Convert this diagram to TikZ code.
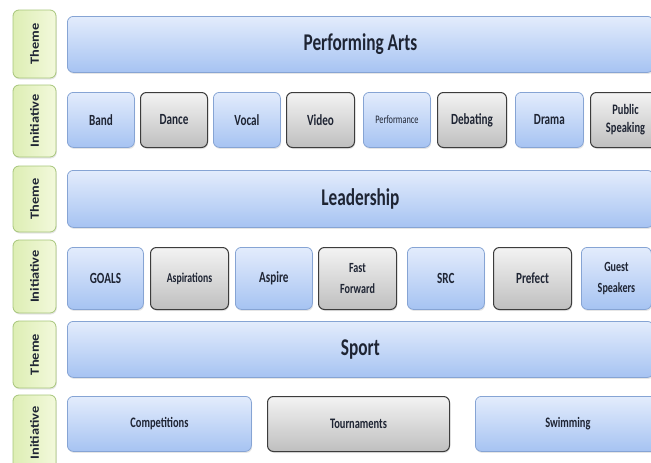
\documentclass[tikz,border=0pt]{standalone}
\usepackage{fontspec}
\setmainfont[FakeStretch=0.72]{Carlito}
\newfontfamily\sidefont[FakeStretch=1.15]{Carlito}
\usepackage{xcolor}
\usepackage{tikz}
\usetikzlibrary{positioning,shadows}

\definecolor{blueTop}{HTML}{E3ECFC}
\definecolor{blueBot}{HTML}{A6C3F2}
\definecolor{blueLine}{HTML}{86A4D4}
\definecolor{greyTop}{HTML}{F3F3F3}
\definecolor{greyBot}{HTML}{BFBFBF}
\definecolor{greyLine}{HTML}{3C3C3C}
\definecolor{greenTop}{HTML}{F3F9DC}
\definecolor{greenBot}{HTML}{DDEEB4}
\definecolor{greenLine}{HTML}{A6C57A}
\definecolor{txtcol}{HTML}{1E2433}

\begin{document}
\begin{tikzpicture}[x=1pt,y=-1pt,
    box/.style={rounded corners=6pt, inner sep=0pt, anchor=north west, align=center,
        text=txtcol, font=\bfseries\fontsize{15.5}{20}\selectfont,
        drop shadow={opacity=0.2, shadow xshift=0.8pt, shadow yshift=-1.5pt}},
    bluebox/.style={box, draw=blueLine, line width=0.8pt, top color=blueTop, bottom color=blueBot},
    greybox/.style={box, draw=greyLine, line width=1pt, top color=greyTop, bottom color=greyBot},
    themebar/.style={bluebox, font=\bfseries\fontsize{24}{26}\selectfont},
    sidelabel/.style={box, anchor=center, rotate=90, draw=greenLine, line width=0.8pt,
        left color=greenBot, right color=greenTop, minimum height=43pt,
        font=\sidefont\bfseries\fontsize{12.5}{14}\selectfont}]
    \clip (0,0) rectangle (651,463);

    % left column
    \node[sidelabel, minimum width=68pt] (th1) at (34.5,44) {Theme};
    \node[sidelabel, minimum width=72pt] (in1) at (34.5,121) {Initiative};
    \node[sidelabel, minimum width=66pt] (th2) at (34.5,199) {Theme};
    \node[sidelabel, minimum width=73pt] (in2) at (34.5,276.5) {Initiative};
    \node[sidelabel, minimum width=67pt] (th3) at (34.5,354.5) {Theme};
    \node[sidelabel, minimum width=76pt] (in3) at (34.5,433) {Initiative};

    % performing arts
    \node[themebar, minimum width=586pt, minimum height=56pt] (arts) at (67,16) {Performing Arts};
    \node[bluebox, minimum width=67pt, minimum height=55pt] (band) at (67,92) {Band};
    \node[greybox, minimum width=67pt, minimum height=55pt] (dance) at (140,92) {Dance};
    \node[bluebox, minimum width=67pt, minimum height=55pt] (vocal) at (213,92) {Vocal};
    \node[greybox, minimum width=68pt, minimum height=55pt] (video) at (286,92) {Video};
    \node[bluebox, minimum width=67pt, minimum height=55pt, font=\fontsize{11.5}{13}\selectfont] (perf) at (363,92) {Performance};
    \node[greybox, minimum width=69pt, minimum height=55pt] (debate) at (437,92) {Debating};
    \node[bluebox, minimum width=68pt, minimum height=55pt] (drama) at (515,92) {Drama};
    \node[greybox, minimum width=70pt, minimum height=55pt, font=\bfseries\fontsize{14.5}{18}\selectfont] (speak) at (590,92) {Public\\Speaking};

    % leadership
    \node[themebar, minimum width=586pt, minimum height=57pt] (lead) at (67,170) {Leadership};
    \node[bluebox, minimum width=76pt, minimum height=62pt] (goals) at (67,247) {GOALS};
    \node[greybox, minimum width=78pt, minimum height=62pt, font=\bfseries\fontsize{13.5}{15}\selectfont] (aspir) at (150,247) {Aspirations};
    \node[bluebox, minimum width=77pt, minimum height=62pt] (aspire) at (235,247) {Aspire};
    \node[greybox, minimum width=78pt, minimum height=62pt, font=\bfseries\fontsize{14}{21}\selectfont] (fast) at (318,247) {Fast\\Forward};
    \node[bluebox, minimum width=77pt, minimum height=62pt] (src) at (407,247) {SRC};
    \node[greybox, minimum width=78pt, minimum height=62pt] (prefect) at (493,247) {Prefect};
    \node[bluebox, minimum width=70pt, minimum height=62pt, font=\bfseries\fontsize{14}{21}\selectfont] (guest) at (581,247) {Guest\\Speakers};

    % sport
    \node[themebar, minimum width=586pt, minimum height=56pt] (sport) at (67,321) {Sport};
    \node[bluebox, minimum width=184pt, minimum height=55pt, font=\bfseries\fontsize{14.5}{16}\selectfont] (comp) at (67,396) {Competitions};
    \node[greybox, minimum width=182pt, minimum height=55pt, font=\bfseries\fontsize{14.5}{16}\selectfont] (tourn) at (267,396) {Tournaments};
    \node[bluebox, minimum width=185pt, minimum height=55pt, font=\bfseries\fontsize{14.5}{16}\selectfont] (swim) at (475,396) {Swimming};
\end{tikzpicture}
\end{document}
